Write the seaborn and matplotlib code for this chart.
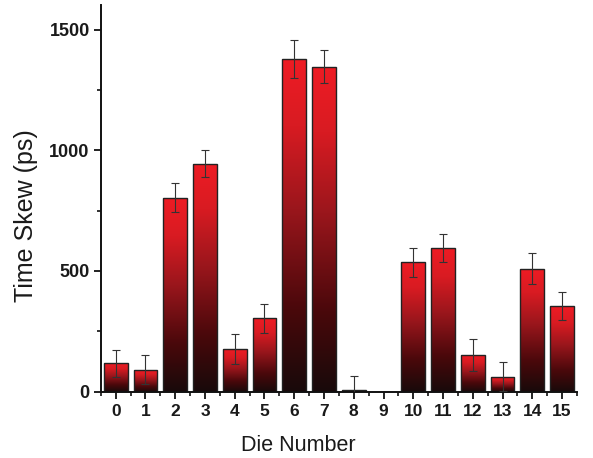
import numpy as np
import pandas as pd
import matplotlib
matplotlib.use("Agg")
import matplotlib.pyplot as plt
import seaborn as sns
from matplotlib.colors import LinearSegmentedColormap

dies = [str(i) for i in range(16)]
skew = [118, 90, 804, 945, 176, 303, 1379, 1346, 8, 0, 536, 594, 152, 62, 510, 354]
err = [56, 60, 60, 55, 62, 59, 78, 69, 57, np.nan, 60, 58, 68, 61, 63, 58]

sns.set_theme(style="ticks")
plt.rcParams['font.family'] = ['Liberation Sans', 'DejaVu Sans']

fig = plt.figure(figsize=(5.93, 4.58), dpi=100)
ax = fig.add_axes([0.170, 0.145, 0.803, 0.843])

df = pd.DataFrame({"die": dies, "skew": skew})
sns.barplot(data=df, x="die", y="skew", ax=ax, width=0.8, color="#ed1c24",
            edgecolor="#222222", linewidth=1.0, errorbar=None)

cmap = LinearSegmentedColormap.from_list(
    "redgrad", [(0.0, "#180a0a"), (0.25, "#4a080b"), (0.55, "#9a161c"),
                (0.8, "#d81b22"), (1.0, "#ee1c24")])
grad = np.linspace(0, 1, 256).reshape(-1, 1)
for p in ax.patches:
    x0, y0 = p.get_x(), p.get_y()
    w, h = p.get_width(), p.get_height()
    if h <= 0:
        continue
    im = ax.imshow(grad, extent=[x0, x0 + w, y0, y0 + h], origin="lower",
                   cmap=cmap, aspect="auto", zorder=p.get_zorder() - 0.1)
    im.set_clip_path(p)
    p.set_facecolor("none")

xs = np.arange(len(dies))
ax.errorbar(xs, skew, yerr=err, fmt="none", ecolor="#333333",
            elinewidth=0.8, capsize=2.7, capthick=0.8, zorder=5)

ax.set_xlim(-0.5, 15.5)
ax.set_ylim(0, 1600)
ax.set_yticks([0, 500, 1000, 1500])
ax.set_yticks([250, 750, 1250], minor=True)
ax.set_xticks(np.arange(-0.5, 16, 1.0), minor=True)

for s in ["top", "right"]:
    ax.spines[s].set_visible(False)
for s in ["left", "bottom"]:
    ax.spines[s].set_linewidth(1.4)
    ax.spines[s].set_color("#111111")

ax.tick_params(axis="both", which="major", direction="out", length=5, width=1.3,
               color="#111111")
ax.tick_params(axis="both", which="minor", direction="out", length=3, width=1.2,
               color="#111111")
ax.tick_params(axis="x", labelsize=12.5, pad=4)
ax.tick_params(axis="y", labelsize=13, pad=3)
for lab in ax.get_yticklabels() + ax.get_xticklabels():
    lab.set_fontweight("bold")
    lab.set_color("#1a1a1a")

ax.set_xlabel("Die Number", fontsize=15.5, color="#1a1a1a")
ax.set_ylabel("Time Skew (ps)", fontsize=18, color="#1a1a1a")
ax.xaxis.set_label_coords(0.414, -0.113)
ax.yaxis.set_label_coords(-0.132, 0.457)

fig.savefig("out.png", dpi=100)
